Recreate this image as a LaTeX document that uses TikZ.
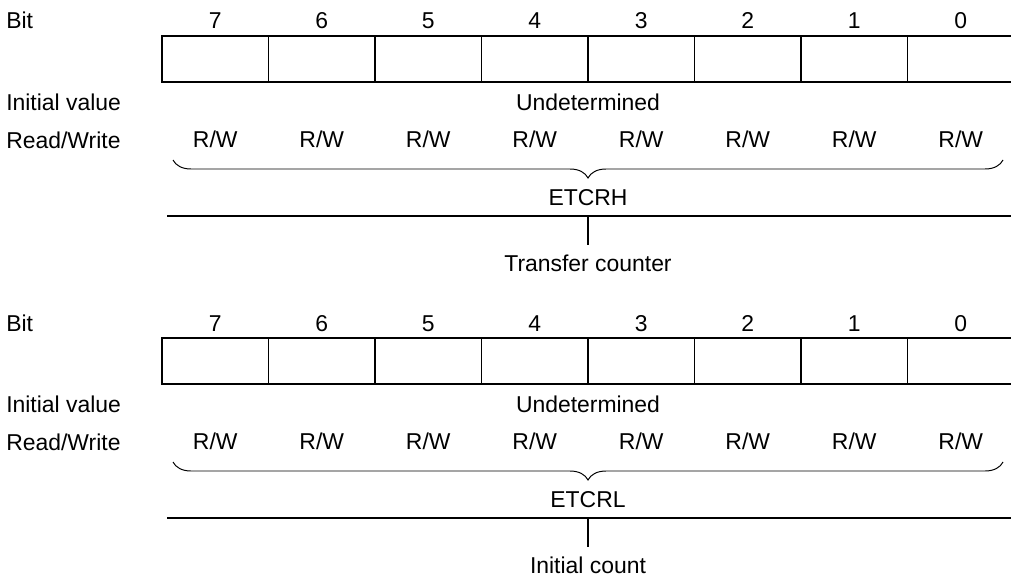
\documentclass[tikz,border=0pt]{standalone}
\usepackage{fontspec}
\setmainfont{Liberation Sans}
\usetikzlibrary{decorations.pathreplacing}

\begin{document}
\begin{tikzpicture}[x=0.025cm,y=-0.025cm,
  txt/.style={font=\fontsize{16.3}{19}\selectfont,inner sep=0pt,anchor=base},
  cell/.style={draw,line width=0.9pt,minimum width=2.6625cm,minimum height=1.15cm,inner sep=0pt},
  rwbrace/.style={decorate,decoration={brace,amplitude=12.8pt},line width=0.7pt},
  rule/.style={line width=0.9pt}]
\useasboundingbox (0,0) rectangle (1011,578);
\foreach \r/\dy/\rname/\rtext in {H/0/ETCRH/Transfer counter,L/302/ETCRL/Initial count}{
\begin{scope}[shift={(0,\dy)}]
  \node[txt,anchor=base west] (bit\r) at (6,29) {Bit};
  \node[txt,anchor=base west] (init\r) at (6,110) {Initial value};
  \node[txt,anchor=base west] (rw\r) at (6,148) {Read/Write};
  % register cells, bit 7 on the left
  \foreach \b in {0,...,7}{
    \node[cell] (c\r\b) at ({215.25+106.5*(7-\b)},59) {};
    \node[txt] (n\r\b) at ({215.25+106.5*(7-\b)},29) {\b};
    \node[txt] (a\r\b) at ({215.25+106.5*(7-\b)},147) {R/W};
  }
  \node[txt] (und\r) at (588,110) {Undetermined};
  \draw[rwbrace] (1003,160) -- (173,160);
  \node[txt] (name\r) at (588,205) {\rname};
  \draw[rule] (167,216) -- (1014,216);
  \coordinate (sep\r) at (588,216);
  \node[txt,inner ysep=6.4pt] (cnt\r) at (588,271) {\rtext};
  \draw[rule] (sep\r) -- (cnt\r.north);
\end{scope}}
\end{tikzpicture}
\end{document}
